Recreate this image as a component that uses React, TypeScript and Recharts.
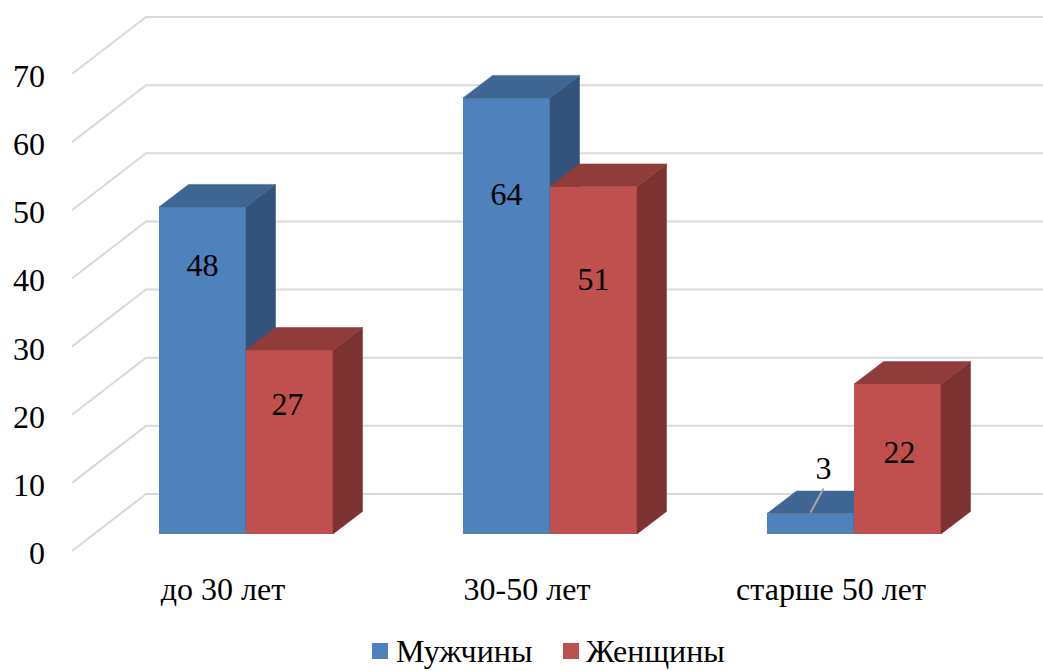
import { Bar, BarChart, CartesianGrid, LabelList, Legend, XAxis, YAxis } from 'recharts'

const categories = ['до 30 лет', '30-50 лет', 'старше 50 лет']
const men = [48, 64, 3]
const women = [27, 51, 22]
const yTicks = [0, 10, 20, 30, 40, 50, 60, 70]

const rows = categories.map((category, i) => ({ category, men: men[i], women: women[i] }))

const FONT = '"Liberation Serif", serif'
const FONT_SIZE = 32
const DEPTH_X = 29.5
const DEPTH_Y = 22.5

// hand-placed labels: drop below the bar's top edge (negative = above), sideways nudge
const menLabelDrop = [58, 96, -46]
const womenLabelDrop = [54, 93, 68]
const menLabelNudge = [0, 0, 0]
const womenLabelNudge = [-2, 0, 2]

function Bar3D({ x, y, width, height, front, top, side }: any) {
  const right = x + width
  const bottom = y + height
  return (
    <g>
      <rect x={x} y={y} width={width} height={height} fill={front} />
      <polygon
        points={`${right},${y} ${right + DEPTH_X},${y - DEPTH_Y} ${right + DEPTH_X},${bottom - DEPTH_Y} ${right},${bottom}`}
        fill={side}
        stroke={side}
        strokeWidth={0.5}
      />
      <polygon
        points={`${x},${y} ${x + DEPTH_X},${y - DEPTH_Y} ${right + DEPTH_X},${y - DEPTH_Y} ${right},${y}`}
        fill={top}
        stroke={top}
        strokeWidth={0.5}
      />
    </g>
  )
}

function GridLine({ x1, x2, y1 }: any) {
  const backX = x1 + 52
  const backY = y1 - 40
  return (
    <g key={`grid-${y1}`}>
      <polyline
        points={`${x1 - 22},${y1 + 17} ${backX},${backY} ${x2 + 37},${backY}`}
        fill="none"
        stroke="#D9D9D9"
        strokeWidth={2}
      />
    </g>
  )
}

function YTick({ y, payload }: any) {
  return (
    <text x={45} y={y + 30} textAnchor="end" fontFamily={FONT} fontSize={FONT_SIZE} fill="#000">
      {payload.value}
    </text>
  )
}

function XTick({ x, payload }: any) {
  return (
    <text x={x - 23} y={600} textAnchor="middle" fontFamily={FONT} fontSize={FONT_SIZE} fill="#000">
      {payload.value}
    </text>
  )
}

function makeLabel(drops: number[], nudges: number[]) {
  return function BarLabel({ x, y, width, value, index }: any) {
    const cx = x + width / 2
    const drop = drops[index]
    const textX = cx + nudges[index] + (drop < 0 ? 13 : 0)
    return (
      <g>
        {drop < 0 && <line x1={cx} y1={y - 1} x2={cx + 13} y2={y - 25} stroke="#A6A6A6" strokeWidth={2} />}
        <text x={textX} y={y + drop} textAnchor="middle" dominantBaseline="central" fontFamily={FONT} fontSize={FONT_SIZE} fill="#000">
          {value}
        </text>
      </g>
    )
  }
}

function LegendBox({ payload }: any) {
  return (
    <div style={{ height: 40, position: 'relative', fontFamily: FONT, fontSize: FONT_SIZE, color: '#000' }}>
      {(payload ?? []).map((entry: any, i: number) => (
        <div key={entry.value} style={{ position: 'absolute', left: i === 0 ? 372 : 563, top: 0, display: 'flex', alignItems: 'center', height: 40, whiteSpace: 'nowrap' }}>
          <i style={{ width: 16, height: 16, background: entry.color, marginRight: i === 0 ? 8 : 7, display: 'block' }} />
          <span>{entry.value}</span>
        </div>
      ))}
    </div>
  )
}

export default function App() {
  return (
    <div style={{ position: 'absolute', left: 0, top: 0 }}>
      <BarChart
        width={1043}
        height={671}
        data={rows}
        barSize={87}
        barGap={0}
        margin={{ top: 57, right: 37, bottom: 0, left: 0 }}
      >
        <CartesianGrid vertical={false} horizontal={(props: any) => <GridLine {...props} />} />
        <XAxis dataKey="category" height={97} axisLine={false} tickLine={false} interval={0} tick={<XTick />} />
        <YAxis width={94} domain={[0, 70]} ticks={yTicks} axisLine={false} tickLine={false} tick={<YTick />} />
        <Legend
          verticalAlign="bottom"
          itemSorter="dataKey"
          content={<LegendBox />}
          wrapperStyle={{ left: 0, width: 1043, bottom: 0 }}
        />
        <Bar
          dataKey="men"
          name="Мужчины"
          fill="#4F81BD"
          isAnimationActive={false}
          shape={(props: any) => <Bar3D {...props} front="#4F81BD" top="#3F6593" side="#33537A" />}
        >
          <LabelList dataKey="men" content={makeLabel(menLabelDrop, menLabelNudge)} />
        </Bar>
        <Bar
          dataKey="women"
          name="Женщины"
          fill="#C0504D"
          isAnimationActive={false}
          shape={(props: any) => <Bar3D {...props} front="#C0504D" top="#903C3A" side="#7C3230" />}
        >
          <LabelList dataKey="women" content={makeLabel(womenLabelDrop, womenLabelNudge)} />
        </Bar>
      </BarChart>
    </div>
  )
}
